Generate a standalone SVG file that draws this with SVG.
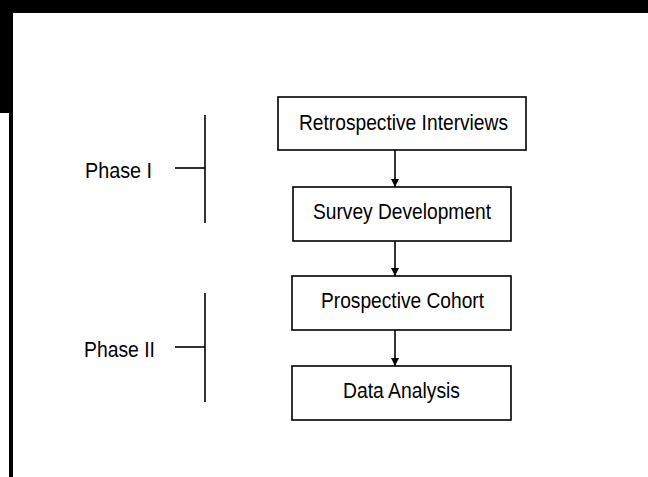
<svg xmlns="http://www.w3.org/2000/svg" width="648" height="477" viewBox="0 0 648 477">
<style>
.box{fill:#fff;stroke:#000;stroke-width:1.6}
.t{font-family:"Liberation Sans Narrow","Liberation Sans",Arial,sans-serif;font-size:22.5px;fill:#000}
.ln{stroke:#000;stroke-width:1.6;fill:none}
</style>
<defs>
<marker id="ah" viewBox="0 0 10 10" refX="10" refY="5" markerWidth="8" markerHeight="9" markerUnits="userSpaceOnUse" orient="auto">
<path d="M0,0 L10,5 L0,10 Z" fill="#000"/>
</marker>
</defs>
<rect width="648" height="477" fill="#fff"/>
<g id="border">
<rect x="0" y="0" width="648" height="13" fill="#000"/>
<rect x="0" y="0" width="13" height="113" fill="#000"/>
<rect x="9" y="113" width="4" height="364" fill="#000"/>
</g>
<g id="connectors">
<line class="ln" x1="395" y1="150" x2="395" y2="187" marker-end="url(#ah)"/>
<line class="ln" x1="395" y1="241" x2="395" y2="276" marker-end="url(#ah)"/>
<line class="ln" x1="395" y1="330" x2="395" y2="366" marker-end="url(#ah)"/>
</g>
<g id="phase1">
<line class="ln" x1="205" y1="115" x2="205" y2="223"/>
<line class="ln" x1="175" y1="168" x2="205" y2="168"/>
<text class="t" x="85" y="178" textLength="67" lengthAdjust="spacingAndGlyphs">Phase I</text>
</g>
<g id="phase2">
<line class="ln" x1="205" y1="293" x2="205" y2="402"/>
<line class="ln" x1="175" y1="347" x2="205" y2="347"/>
<text class="t" x="84" y="357" textLength="71" lengthAdjust="spacingAndGlyphs">Phase II</text>
</g>
<g id="n1">
<rect class="box" x="278" y="97" width="248" height="53"/>
<text class="t" x="299" y="130" textLength="209" lengthAdjust="spacingAndGlyphs">Retrospective Interviews</text>
</g>
<g id="n2">
<rect class="box" x="293" y="187" width="218" height="54"/>
<text class="t" x="313" y="219" textLength="178" lengthAdjust="spacingAndGlyphs">Survey Development</text>
</g>
<g id="n3">
<rect class="box" x="292" y="276" width="219" height="54"/>
<text class="t" x="321" y="308" textLength="163" lengthAdjust="spacingAndGlyphs">Prospective Cohort</text>
</g>
<g id="n4">
<rect class="box" x="292" y="366" width="219" height="54"/>
<text class="t" x="343" y="398" textLength="117" lengthAdjust="spacingAndGlyphs">Data Analysis</text>
</g>
</svg>
